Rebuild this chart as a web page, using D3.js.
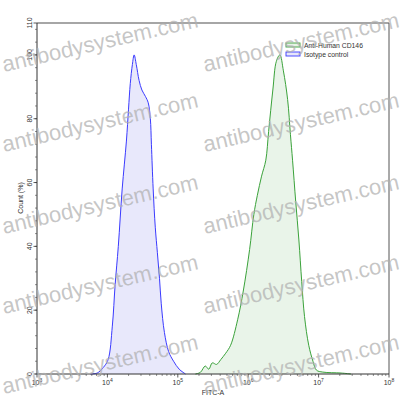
<!DOCTYPE html>
<html>
<head>
<meta charset="utf-8">
<script src="https://cdn.jsdelivr.net/npm/d3@7"></script>
<style>
  body { margin: 0; background: #fff; }
  text { font-family: "Liberation Sans", Arial, sans-serif; }
</style>
</head>
<body>
<div id="viz"></div>
<script>
// FITC-A given as decade exponents (10^x), counts in %
const isoExp = [3.755, 3.855, 3.94, 4.01, 4.07, 4.11, 4.155, 4.21, 4.27, 4.30, 4.325, 4.355, 4.38, 4.41, 4.45, 4.49, 4.54, 4.58, 4.61, 4.625, 4.65, 4.68, 4.71, 4.74, 4.765, 4.81, 4.87, 4.94, 5.02, 5.11];
const isoCount = [0, 0.3, 2, 4.5, 15, 28, 40, 58, 73, 83, 91, 97, 100, 97, 92, 89, 87, 85, 80, 72, 58, 46, 38, 30, 22, 13, 7, 4, 1.5, 0];

const cdExp = [5.25, 5.32, 5.39, 5.44, 5.49, 5.55, 5.61, 5.68, 5.75, 5.85, 5.93, 6.02, 6.08, 6.13, 6.19, 6.25, 6.29, 6.35, 6.40, 6.45, 6.50, 6.56, 6.60, 6.63, 6.675, 6.72, 6.76, 6.80, 6.86, 6.92, 6.97, 7.06, 7.32, 7.46];
const cdCount = [0, 0.5, 2.5, 1.5, 3.5, 3, 4.5, 6.5, 9, 17, 26, 39, 50, 56, 62, 67, 76, 89, 98, 100, 95, 86, 75, 67, 54, 42, 29, 18, 9, 4, 1.2, 0.6, 0.3, 0];

const xTickExp = [3, 4, 5, 6, 7, 8];
const yTickLabels = [0, 20, 40, 60, 80, 100, 110];
const legendLabels = ["Anti-Human CD146", "Isotype control"];

const W = 402, H = 413;
const svg = d3.select("#viz").append("svg").attr("width", W).attr("height", H);

const x = d3.scaleLog().domain([1e3, 1e8]).range([37, 389]);
const y = d3.scaleLinear().domain([0, 110]).range([374, 23]);

const area = d3.area()
  .x(d => x(Math.pow(10, d[0])))
  .y0(y(0))
  .y1(d => y(d[1]))
  .curve(d3.curveCatmullRom);
const line = d3.line()
  .x(d => x(Math.pow(10, d[0])))
  .y(d => y(d[1]))
  .curve(d3.curveCatmullRom);

const series = [
  { name: legendLabels[1], pts: d3.zip(isoExp, isoCount), fill: "#e6e6fb", stroke: "#3a3aff" },
  { name: legendLabels[0], pts: d3.zip(cdExp, cdCount), fill: "#e7f3e7", stroke: "#3aa23a" }
];

series.forEach(s => {
  svg.append("path").datum(s.pts).attr("d", area).attr("fill", s.fill).attr("opacity", 0.9);
  svg.append("path").datum(s.pts).attr("d", line).attr("fill", "none")
    .attr("stroke", s.stroke).attr("stroke-width", 1);
});

// frame: top and right in grey
svg.append("line").attr("x1", 37).attr("x2", 389).attr("y1", 23).attr("y2", 23)
  .attr("stroke", "#888").attr("stroke-width", 1.3);
svg.append("line").attr("x1", 389).attr("x2", 389).attr("y1", 23).attr("y2", 374)
  .attr("stroke", "#555").attr("stroke-width", 1);

// x axis
const xMinor = [];
for (let e = 3; e < 8; e++) for (let k = 2; k < 10; k++) xMinor.push(k * Math.pow(10, e));
const gx = svg.append("g").attr("transform", `translate(0,${y(0)})`);
gx.append("line").attr("x1", 37).attr("x2", 389).attr("stroke", "#333");
gx.selectAll(".minor").data(xMinor).join("line")
  .attr("x1", d => x(d)).attr("x2", d => x(d)).attr("y1", 0).attr("y2", 2)
  .attr("stroke", "#444").attr("stroke-width", 0.6);
gx.selectAll(".major").data(xTickExp).join("line")
  .attr("x1", d => x(Math.pow(10, d))).attr("x2", d => x(Math.pow(10, d)))
  .attr("y1", 0).attr("y2", 3.5).attr("stroke", "#333").attr("stroke-width", 0.8);
const xl = gx.selectAll(".lbl").data(xTickExp).join("text")
  .attr("x", d => x(Math.pow(10, d))).attr("y", 11)
  .attr("text-anchor", "middle").attr("font-size", 7).attr("fill", "#333");
xl.append("tspan").text("10");
xl.append("tspan").attr("font-size", 5).attr("dy", -3).text(d => d);

svg.append("text").attr("x", 213).attr("y", 395).attr("text-anchor", "middle")
  .attr("font-size", 7).attr("fill", "#333").text("FITC-A");

// y axis
const gy = svg.append("g").attr("transform", "translate(37,0)");
gy.append("line").attr("y1", 23).attr("y2", 374).attr("stroke", "#333");
gy.selectAll(".minor").data(d3.range(0, 111, 4)).join("line")
  .attr("y1", d => y(d)).attr("y2", d => y(d)).attr("x1", 0).attr("x2", -2)
  .attr("stroke", "#444").attr("stroke-width", 0.6);
gy.selectAll(".major").data(yTickLabels).join("line")
  .attr("y1", d => y(d)).attr("y2", d => y(d)).attr("x1", 0).attr("x2", -3.5)
  .attr("stroke", "#333").attr("stroke-width", 0.8);
gy.selectAll(".lbl").data(yTickLabels).join("text")
  .attr("transform", d => `translate(-5,${y(d)}) rotate(-90)`)
  .attr("text-anchor", "middle").attr("font-size", 7).attr("fill", "#333")
  .text(d => d);
svg.append("text").attr("transform", "translate(23,198) rotate(-90)")
  .attr("text-anchor", "middle").attr("font-size", 7).attr("fill", "#333").text("Count (%)");

// legend
const leg = svg.append("g").attr("transform", "translate(286,43)");
[series[1], series[0]].forEach((s, i) => {
  leg.append("rect").attr("x", 0).attr("y", i * 9).attr("width", 14).attr("height", 4)
    .attr("fill", s.fill).attr("stroke", s.stroke).attr("stroke-width", 0.9);
  leg.append("text").attr("x", 18).attr("y", i * 9 + 4.5).attr("font-size", 6.8)
    .attr("fill", "#333").text(legendLabels[i]);
});

// watermark
const wmRows = [72, 152, 234, 314, 394];
const wmCols = [4, 205];
wmRows.forEach(r => wmCols.forEach(c => {
  svg.append("text").attr("transform", `translate(${c},${r}) rotate(-13)`)
    .attr("font-size", 22).attr("fill", "#b0b0b0").attr("fill-opacity", 0.72)
    .text("antibodysystem.com");
}));
</script>
</body>
</html>
